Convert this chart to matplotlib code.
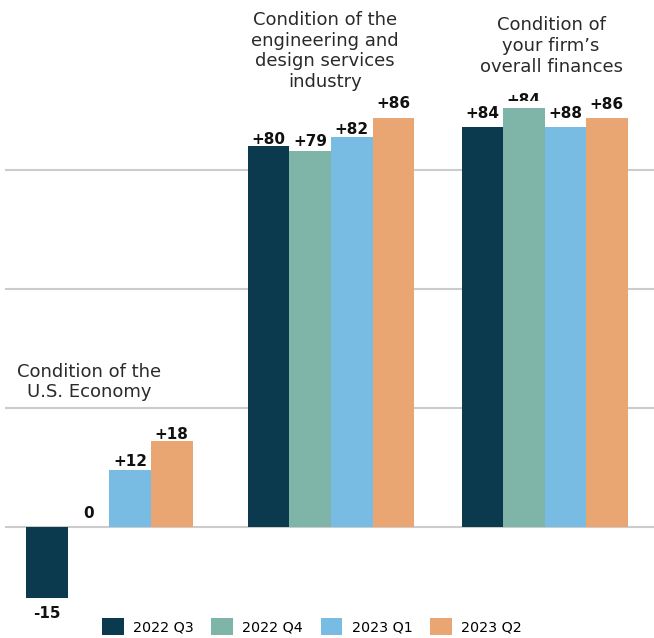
import numpy as np
import matplotlib.pyplot as plt
from matplotlib.patches import Patch, Rectangle

OUT = "out.png"

GROUPS = ["Condition of the\nU.S. Economy",
          "Condition of the\nengineering and\ndesign services\nindustry",
          "Condition of\nyour firm\u2019s\noverall finances"]
SERIES = ["2022 Q3", "2022 Q4", "2023 Q1", "2023 Q2"]
COLORS = ["#0b3a4f", "#7fb5a8", "#78bbe3", "#e9a572"]

# bar heights per series (one value per group)
VALUES = [
    [-15, 80, 84],
    [0, 79, 88],
    [12, 82, 84],
    [18, 86, 86],
]
# labels as printed on the chart
LABELS = [
    ["-15", "+80", "+84"],
    ["0", "+79", "+84"],
    ["+12", "+82", "+88"],
    ["+18", "+86", "+86"],
]
# gap (px) between bar end and label centre, as placed in the source
PADS = [
    [15, 6.5, 13.5],
    [13.5, 9, 7.5],
    [8.5, 7.2, 13.5],
    [6.8, 14, 13],
]

PPU = 119 / 25  # pixels per unit


def main():
    plt.rcParams["font.family"] = "DejaVu Sans"
    fig = plt.figure(figsize=(6.54, 6.38), dpi=100)
    top_v = 527 / PPU
    bot_v = -(612 - 527) / PPU
    ax = fig.add_axes([5 / 654, 1 - 612 / 638, 649 / 654, 612 / 638])
    ax.set_ylim(bot_v, top_v)

    xpos = np.array([0.0, 1.0, 1.964])
    w = 0.1874
    ax.set_xlim((5 - 109.5) / 221.5, (654 - 109.5) / 221.5)

    for y in [0, 25, 50, 75]:
        ax.axhline(y, color="#cccccc", lw=1.5, zorder=0)

    for i in range(len(SERIES)):
        xs = xpos + (i - 1.5) * w
        vals = VALUES[i]
        ax.bar(xs, vals, width=w, color=COLORS[i], zorder=2)
        for x, v, lab, pad in zip(xs, vals, LABELS[i], PADS[i]):
            yy = v - pad / PPU if v < 0 else v + pad / PPU
            t = ax.text(x, yy, lab, ha="center", va="center", fontsize=11,
                        fontweight="bold", color="#111111", zorder=3,
                        clip_on=False)
            if lab != f"+{v}" and v > 0:
                # this label is cut off just above the bar in the source
                clip = Rectangle((x - w, v + 7.3 / PPU), 2 * w, 50,
                                 transform=ax.transData)
                t.set_clip_on(True)
                t.set_clip_path(clip)

    # group titles
    title_pos = [(-20 / 221.5, (527 - 382) / PPU),
                 (1 + (325 - 331) / 221.5, (527 - 51) / PPU),
                 ((551 - 109.5) / 221.5, (527 - 46) / PPU)]
    for t, (tx, ty) in zip(GROUPS, title_pos):
        ax.text(tx, ty, t, ha="center", va="center", fontsize=13,
                color="#2a2a2a", linespacing=1.18, clip_on=False)

    ax.axis("off")

    handles = [Patch(facecolor=c, edgecolor="none") for c in COLORS]
    fig.legend(handles, SERIES, loc="lower center", ncol=4,
               bbox_to_anchor=(312 / 654, -0.009), frameon=False,
               prop={"size": 10.3}, borderpad=0.1,
               handlelength=1.5, handleheight=1.5, handletextpad=0.65,
               columnspacing=1.25)

    fig.savefig(OUT, dpi=100)


if __name__ == "__main__":
    main()
